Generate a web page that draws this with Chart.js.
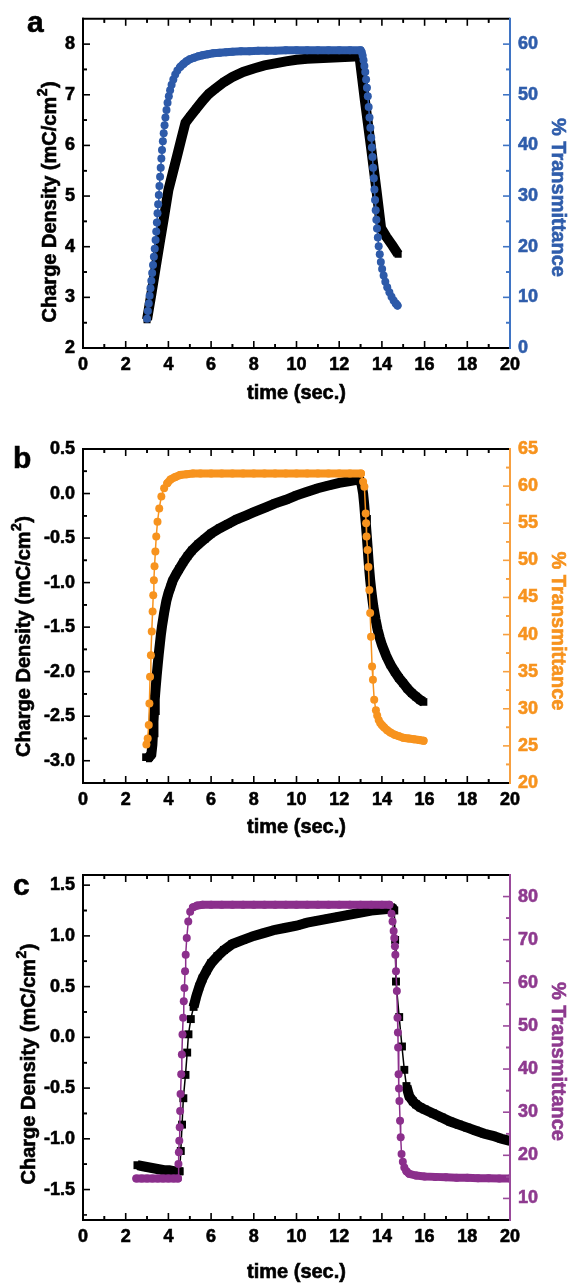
<!DOCTYPE html>
<html>
<head>
<meta charset="utf-8">
<script src="https://cdn.jsdelivr.net/npm/chart.js@4.4.1/dist/chart.umd.min.js"></script>
<style>
  body { margin: 0; background: #fff; width: 571px; height: 1283px; position: relative; overflow: hidden; font-family: "Liberation Sans", Arial, sans-serif; }
  .panel { position: absolute; left: 0; width: 571px; }
  .tag { position: absolute; font-weight: bold; font-size: 30px; line-height: 30px; color: #000; -webkit-text-stroke: 0.6px #000; }
</style>
</head>
<body>
<div class="panel" style="top:0;height:430px"><canvas id="chartA" width="571" height="430"></canvas></div>
<div class="panel" style="top:430px;height:425px"><canvas id="chartB" width="571" height="425"></canvas></div>
<div class="panel" style="top:855px;height:428px"><canvas id="chartC" width="571" height="428"></canvas></div>
<div class="tag" style="left:27px;top:7px">a</div>
<div class="tag" style="left:13px;top:443px">b</div>
<div class="tag" style="left:13px;top:870px">c</div>

<script>
// ---- shared axis labels ----
const xTicks = [0, 2, 4, 6, 8, 10, 12, 14, 16, 18, 20];
const xTitle = 'time (sec.)';
const chargeTitle = ['Charge Density (mC/cm', '2', ')'];
const transTitle = '% Transmittance';

// ---- panel a ----
const timeBlackA = [3.0, 3.2, 3.4, 3.6, 3.8, 4.0, 4.2, 4.4, 4.6, 4.8, 5.0, 5.3, 5.6, 5.9, 6.2, 6.6, 7.0, 7.5, 8.0, 8.5, 9.0, 9.5, 10.0, 10.5, 11.0, 11.5, 12.0, 12.5, 12.95, 13.2, 13.5, 13.75, 13.96, 14.2, 14.5, 14.76];
const chargeA = [2.56, 3.06, 3.58, 4.1, 4.6, 5.12, 5.45, 5.78, 6.12, 6.45, 6.56, 6.72, 6.88, 7.02, 7.12, 7.25, 7.35, 7.45, 7.52, 7.58, 7.62, 7.66, 7.69, 7.71, 7.72, 7.73, 7.74, 7.75, 7.76, 6.9, 5.93, 5.1, 4.37, 4.2, 4.02, 3.85];
const timeBlueA = [3.0, 3.04, 3.08, 3.12, 3.16, 3.2, 3.24, 3.28, 3.32, 3.36, 3.4, 3.43, 3.46, 3.49, 3.52, 3.55, 3.58, 3.61, 3.64, 3.67, 3.7, 3.74, 3.78, 3.82, 3.86, 3.91, 3.96, 4.02, 4.08, 4.15, 4.23, 4.32, 4.42, 4.55, 4.7, 4.85, 5.0, 5.2, 5.4, 5.6, 5.85, 6.1, 6.4, 6.7, 7.0, 7.4, 7.8, 8.2, 8.6, 9.0, 9.5, 10.0, 10.5, 11.0, 11.5, 12.0, 12.5, 13.0,
  13.06, 13.1, 13.14, 13.18, 13.22, 13.26, 13.3, 13.34, 13.38, 13.42, 13.46, 13.5, 13.53, 13.56, 13.59, 13.62, 13.65, 13.68, 13.71, 13.74, 13.77, 13.81, 13.85, 13.9, 13.95, 14.01, 14.08, 14.16, 14.25, 14.35, 14.45, 14.55, 14.65, 14.73];
const transA = [5.8, 7.3, 8.8, 10.3, 11.8, 13.3, 14.8, 16.4, 18.0, 19.6, 21.3, 23.0, 24.8, 26.6, 28.4, 30.2, 32.0, 33.8, 35.6, 37.4, 39.1, 40.8, 42.4, 44.0, 45.5, 47.0, 48.4, 49.7, 50.9, 52.0, 53.0, 54.0, 54.8, 55.5, 56.1, 56.6, 57.0, 57.3, 57.6, 57.8, 58.0, 58.2, 58.3, 58.4, 58.5, 58.6, 58.6, 58.7, 58.7, 58.7, 58.8, 58.8, 58.8, 58.8, 58.8, 58.8, 58.8, 58.8,
  58.4, 57.7, 56.8, 55.7, 54.5, 53.0, 51.4, 49.7, 47.6, 45.5, 43.5, 41.5, 39.6, 37.7, 35.6, 33.5, 31.3, 29.2, 27.2, 25.3, 23.6, 21.8, 20.1, 18.5, 17.0, 15.6, 14.3, 13.1, 12.0, 11.0, 10.1, 9.4, 8.8, 8.4];
const chargeTicksA = [2, 3, 4, 5, 6, 7, 8];
const transTicksA = [0, 10, 20, 30, 40, 50, 60];

// ---- panel b ----
const timeBlackB = [2.95, 3.1, 3.2, 3.25, 3.28, 3.3, 3.33, 3.36, 3.4, 3.45, 3.5, 3.55, 3.6, 3.65, 3.7, 3.8, 3.9, 4.0, 4.1, 4.2, 4.35, 4.5, 4.7, 4.9, 5.1, 5.4, 5.7, 6.0, 6.4, 6.8, 7.2, 7.6, 8.0, 8.5, 9.0, 9.5, 10.0, 10.5, 11.0, 11.5, 12.0, 12.5, 12.95,
  13.05, 13.12, 13.17, 13.21, 13.25, 13.29, 13.33, 13.37, 13.41, 13.45, 13.5, 13.55, 13.6, 13.7, 13.8, 13.9, 14.0, 14.2, 14.4, 14.6, 14.8, 15.0, 15.2, 15.4, 15.6, 15.8, 15.95];
const chargeB = [-2.96, -2.96, -2.93, -2.82, -2.68, -2.56, -2.43, -2.31, -2.19, -2.05, -1.92, -1.8, -1.69, -1.58, -1.49, -1.34, -1.21, -1.12, -1.05, -0.98, -0.91, -0.85, -0.77, -0.70, -0.64, -0.57, -0.51, -0.45, -0.39, -0.34, -0.29, -0.25, -0.21, -0.16, -0.11, -0.07, -0.02, 0.02, 0.06, 0.09, 0.12, 0.14, 0.16,
  0.1, 0.0, -0.12, -0.24, -0.35, -0.47, -0.6, -0.74, -0.86, -0.97, -1.08, -1.18, -1.27, -1.41, -1.53, -1.62, -1.7, -1.82, -1.92, -2.0, -2.07, -2.13, -2.19, -2.24, -2.28, -2.32, -2.34];
const timeOrangeB = [2.97, 3.03, 3.08, 3.11, 3.14, 3.18, 3.22, 3.26, 3.29, 3.32, 3.35, 3.39, 3.43, 3.49, 3.57, 3.67, 3.8, 3.95, 4.1, 4.3, 4.55, 4.85, 5.15, 5.5, 6.0, 6.5, 7.0, 7.5, 8.0, 8.5, 9.0, 9.5, 10.0, 10.5, 11.0, 11.5, 12.0, 12.5, 13.02,
  13.12, 13.18, 13.24, 13.26, 13.28, 13.33, 13.37, 13.41, 13.45, 13.49, 13.54, 13.58, 13.64, 13.72, 13.78, 13.85, 13.92, 14.0, 14.1, 14.25, 14.4, 14.6, 14.8, 15.0, 15.25, 15.5, 15.75, 15.95];
const transB = [25.2, 26.0, 27.8, 30.7, 34.3, 37.2, 40.4, 43.1, 45.3, 47.3, 49.2, 51.2, 53.2, 55.2, 57.0, 58.6, 59.7, 60.4, 60.9, 61.2, 61.5, 61.6, 61.7, 61.7, 61.7, 61.7, 61.7, 61.7, 61.7, 61.7, 61.7, 61.7, 61.7, 61.7, 61.7, 61.7, 61.7, 61.7, 61.7,
  60.6, 59.9, 56.3, 55.0, 53.2, 51.4, 49.1, 46.0, 42.9, 39.7, 35.7, 33.9, 31.2, 29.8, 29.1, 28.5, 28.1, 27.8, 27.5, 27.1, 26.8, 26.5, 26.3, 26.1, 26.0, 25.9, 25.8, 25.7];
const chargeTicksB = [-3.0, -2.5, -2.0, -1.5, -1.0, -0.5, 0.0, 0.5];
const transTicksB = [20, 25, 30, 35, 40, 45, 50, 55, 60, 65];

// ---- panel c ----
const timeBlackC = [2.55, 2.8, 3.05, 3.3, 3.55, 3.8, 4.05, 4.3, 4.5, 4.53, 4.58, 4.64, 4.7, 4.8, 4.88, 4.94, 5.05, 5.18, 5.3, 5.45, 5.6, 5.8, 6.0, 6.3, 6.6, 7.0, 7.5, 8.0, 8.5, 9.0, 9.5, 10.0, 10.5, 11.0, 11.5, 12.0, 12.5, 13.0, 13.5, 14.0, 14.5, 14.58,
  14.62, 14.66, 14.81, 14.94, 15.05, 15.15, 15.28, 15.45, 15.6, 15.8, 16.0, 16.4, 16.8, 17.2, 17.6, 18.0, 18.4, 18.8, 19.2, 19.6, 20.0];
const chargeC = [-1.26, -1.27, -1.28, -1.29, -1.3, -1.31, -1.31, -1.32, -1.32, -1.32, -1.12, -0.86, -0.6, -0.37, -0.15, 0.03, 0.18, 0.3, 0.4, 0.5, 0.58, 0.66, 0.73, 0.8, 0.86, 0.92, 0.96, 1.0, 1.03, 1.06, 1.08, 1.1, 1.13, 1.15, 1.17, 1.19, 1.21, 1.23, 1.25, 1.26, 1.27, 1.25,
  0.96, 0.55, 0.2, -0.09, -0.32, -0.48, -0.58, -0.63, -0.66, -0.69, -0.71, -0.75, -0.79, -0.83, -0.86, -0.89, -0.92, -0.95, -0.97, -1.0, -1.02];
const timePurpleC = [2.5, 2.75, 3.0, 3.25, 3.5, 3.75, 4.0, 4.25, 4.45, 4.47, 4.49, 4.51, 4.53, 4.55, 4.57, 4.6, 4.63, 4.66, 4.69, 4.72, 4.75, 4.78, 4.81, 4.86, 4.93, 5.02, 5.15, 5.35, 5.6, 6.0, 6.5, 7.0, 7.5, 8.0, 8.5, 9.0, 9.5, 10.0, 10.5, 11.0, 11.5, 12.0, 12.5, 13.0, 13.5, 14.0, 14.35,
  14.45, 14.5, 14.55, 14.58, 14.61, 14.63, 14.66, 14.7, 14.73, 14.75, 14.76, 14.78, 14.8, 14.82, 14.85, 14.88, 14.92, 14.98, 15.05, 15.15, 15.28, 15.6, 16.0, 16.5, 17.0, 17.5, 18.0, 18.5, 19.0, 19.5, 20.0];
const transC = [14.6, 14.6, 14.6, 14.6, 14.6, 14.6, 14.6, 14.6, 14.6, 18.0, 20.7, 23.4, 26.5, 30.3, 34.2, 38.8, 43.4, 48.0, 51.9, 55.7, 58.8, 62.7, 66.5, 70.4, 74.2, 76.5, 77.5, 77.9, 78.1, 78.1, 78.1, 78.1, 78.1, 78.1, 78.1, 78.1, 78.1, 78.1, 78.1, 78.1, 78.1, 78.1, 78.1, 78.1, 78.1, 78.1, 78.1,
  76.0, 74.2, 72.0, 70.4, 68.5, 66.5, 62.7, 58.1, 51.9, 48.5, 45.0, 38.8, 35.5, 32.6, 28.0, 24.2, 20.3, 18.5, 17.2, 16.3, 15.7, 15.3, 15.1, 15.0, 14.9, 14.8, 14.8, 14.7, 14.7, 14.6, 14.6];
const chargeTicksC = [-1.5, -1.0, -0.5, 0.0, 0.5, 1.0, 1.5];
const transTicksC = [10, 20, 30, 40, 50, 60, 70, 80];

const FONT = '"Liberation Sans", Arial, sans-serif';

function pts(xs, ys) {
  return xs.map((x, i) => ({ x: x, y: ys[i] }));
}

// short segments (squares overlapping) drawn as a thick band, long ones as a thin line
function bandWidth(thick, thin, maxLen) {
  return c => Math.hypot(c.p1.x - c.p0.x, c.p1.y - c.p0.y) <= maxLen ? thick : thin;
}
// flat segments as a thick band, steep ones as a thin line between the dots
function slopeWidth(thick, thin) {
  return c => Math.abs(c.p1.y - c.p0.y) <= 1.2 * Math.abs(c.p1.x - c.p0.x) ? thick : thin;
}

function framePlugin(p) {
  return {
    id: 'frame',
    afterDatasetsDraw(chart) {
      const ctx = chart.ctx, a = chart.chartArea;
      const sx = chart.scales.x, sl = chart.scales.y, sr = chart.scales.y1;
      const line = (x1, y1, x2, y2, col, w) => {
        ctx.strokeStyle = col; ctx.lineWidth = w;
        ctx.beginPath(); ctx.moveTo(x1, y1); ctx.lineTo(x2, y2); ctx.stroke();
      };
      const withMinor = list => {
        const step = list[1] - list[0];
        const out = [];
        list.forEach(v => { out.push([v, 7]); out.push([v - step / 2, 4]); out.push([v + step / 2, 4]); });
        return out;
      };
      const text = (s, x, y, col) => {
        ctx.fillStyle = col; ctx.strokeStyle = col; ctx.lineWidth = 0.6;
        ctx.fillText(s, x, y); ctx.strokeText(s, x, y);
      };
      ctx.save();
      withMinor(p.xTicks).forEach(([v, len]) => {
        const px = sx.getPixelForValue(v);
        if (px < a.left + 2 || px > a.right - 2) return;
        line(px, a.bottom, px, a.bottom - len, '#000', 1.6);
        line(px, a.top, px, a.top + len, '#000', 1.6);
      });
      withMinor(p.leftTicks).forEach(([v, len]) => {
        const py = sl.getPixelForValue(v);
        if (py < a.top + 2 || py > a.bottom - 2) return;
        line(a.left, py, a.left + len, py, '#000', 1.6);
      });
      withMinor(p.rightTicks).forEach(([v, len]) => {
        const py = sr.getPixelForValue(v);
        if (py < a.top + 2 || py > a.bottom - 2) return;
        line(a.right, py, a.right - len, py, p.axisColor, 1.6);
      });
      line(a.left - 1, a.bottom, a.right, a.bottom, '#000', 2);
      line(a.left - 1, a.top, a.right, a.top, '#000', 2);
      line(a.left, a.top - 1, a.left, a.bottom + 1, '#000', 2);
      line(a.right, a.top - 1, a.right, a.bottom + 1, p.axisColor, 2);

      const cy = (a.top + a.bottom) / 2;
      ctx.textBaseline = 'middle';

      // left title with a raised superscript 2
      const big = 'bold 20px ' + FONT, small = 'bold 14px ' + FONT;
      ctx.font = big;
      const w1 = ctx.measureText(chargeTitle[0]).width;
      const w3 = ctx.measureText(chargeTitle[2]).width;
      ctx.font = small;
      const w2 = ctx.measureText(chargeTitle[1]).width;
      ctx.save();
      ctx.translate(p.leftTitleX, cy + p.leftTitleDy);
      ctx.rotate(-Math.PI / 2);
      ctx.textAlign = 'left';
      let x0 = -(w1 + w2 + w3) / 2;
      ctx.font = big; text(chargeTitle[0], x0, 0, '#000');
      ctx.font = small; text(chargeTitle[1], x0 + w1 + 0.5, -7, '#000');
      ctx.font = big; text(chargeTitle[2], x0 + w1 + w2 + 1, 0, '#000');
      ctx.restore();

      ctx.textAlign = 'center';
      ctx.font = big;
      ctx.save();
      ctx.translate(558, cy + p.rightTitleDy);
      ctx.rotate(Math.PI / 2);
      text(transTitle, 0, 0, p.labelColor);
      ctx.restore();
      text(xTitle, (a.left + a.right) / 2, a.bottom + p.xTitleDy, '#000');
      ctx.restore();
    }
  };
}

function makeChart(id, p) {
  const canvas = document.getElementById(id);
  const H = canvas.height;
  const tickFont = { family: FONT, size: 18, weight: 'bold' };
  return new Chart(canvas, {
    type: 'line',
    data: {
      datasets: [
        {
          data: pts(p.transX, p.transY),
          yAxisID: 'y1',
          borderColor: p.color,
          backgroundColor: p.color,
          borderWidth: 1.5,
          borderCapStyle: 'round',
          segment: { borderWidth: slopeWidth(8, 1.5) },
          pointStyle: 'circle',
          pointRadius: 4,
          pointBorderWidth: 0,
          pointBackgroundColor: p.color,
          tension: 0,
          clip: { left: 8, top: 8, right: 0, bottom: 8 }
        },
        {
          data: pts(p.chargeX, p.chargeY),
          yAxisID: 'y',
          borderColor: '#000',
          backgroundColor: '#000',
          borderWidth: 1.5,
          segment: { borderWidth: bandWidth(p.blackThick, p.blackThin, p.blackLen) },
          pointStyle: 'rect',
          pointRadius: p.squareR,
          pointBorderWidth: 0,
          pointBackgroundColor: '#000',
          tension: 0,
          clip: { left: 8, top: 8, right: 0, bottom: 8 }
        }
      ]
    },
    options: {
      responsive: false,
      animation: false,
      events: [],
      layout: { padding: { top: p.top, left: 0, right: 0, bottom: 0 }, autoPadding: false },
      plugins: { legend: { display: false }, tooltip: { enabled: false } },
      scales: {
        x: {
          type: 'linear', min: 0, max: 20,
          afterBuildTicks: s => { s.ticks = xTicks.map(v => ({ value: v })); },
          afterFit: s => { s.height = H - p.bottom; },
          ticks: { font: tickFont, color: '#000', padding: 6, maxRotation: 0, autoSkip: false, textStrokeColor: '#000', textStrokeWidth: 0.6 },
          grid: { display: false, drawTicks: false },
          border: { display: false }
        },
        y: {
          position: 'left', min: p.leftMin, max: p.leftMax,
          afterBuildTicks: s => { s.ticks = p.leftTicks.map(v => ({ value: v })); },
          afterFit: s => { s.width = 83; },
          ticks: { font: tickFont, color: '#000', padding: 8, textStrokeColor: '#000', textStrokeWidth: 0.6,
                   callback: v => p.decimals ? v.toFixed(1) : String(v) },
          grid: { display: false, drawTicks: false },
          border: { display: false }
        },
        y1: {
          position: 'right', min: p.rightMin, max: p.rightMax,
          afterBuildTicks: s => { s.ticks = p.rightTicks.map(v => ({ value: v })); },
          afterFit: s => { s.width = 61; },
          ticks: { font: tickFont, color: p.labelColor, padding: 8, textStrokeColor: p.labelColor, textStrokeWidth: 0.6 },
          grid: { display: false, drawTicks: false },
          border: { display: false }
        }
      }
    },
    plugins: [framePlugin(p)]
  });
}

makeChart('chartA', {
  top: 14, bottom: 348,
  chargeX: timeBlackA, chargeY: chargeA, transX: timeBlueA, transY: transA,
  leftMin: 2, leftMax: 8.5, rightMin: 0, rightMax: 65,
  leftTicks: chargeTicksA, rightTicks: transTicksA, xTicks: xTicks, decimals: false,
  color: '#2d5aa9', labelColor: '#2f5dab', axisColor: '#3f74c4',
  blackThick: 10, blackThin: 10, blackLen: 99, squareR: 5,
  leftTitleX: 50, leftTitleDy: 19, rightTitleDy: 14, xTitleDy: 45
});

makeChart('chartB', {
  top: 19, bottom: 353,
  chargeX: timeBlackB, chargeY: chargeB, transX: timeOrangeB, transY: transB,
  leftMin: -3.25, leftMax: 0.5, rightMin: 20, rightMax: 65,
  leftTicks: chargeTicksB, rightTicks: transTicksB, xTicks: xTicks, decimals: true,
  color: '#f7931e', labelColor: '#f7931e', axisColor: '#f7a040',
  blackThick: 10, blackThin: 1.5, blackLen: 16, squareR: 5.4,
  leftTitleX: 24, leftTitleDy: 21, rightTitleDy: 15, xTitleDy: 44
});

makeChart('chartC', {
  top: 20, bottom: 365,
  chargeX: timeBlackC, chargeY: chargeC, transX: timePurpleC, transY: transC,
  leftMin: -1.8, leftMax: 1.6, rightMin: 5, rightMax: 85,
  leftTicks: chargeTicksC, rightTicks: transTicksC, xTicks: xTicks, decimals: true,
  color: '#8b2f8c', labelColor: '#8e3a8f', axisColor: '#9a4a9b',
  blackThick: 10, blackThin: 1.5, blackLen: 12, squareR: 5.6,
  leftTitleX: 29, leftTitleDy: 17, rightTitleDy: 14, xTitleDy: 52
});
</script>
</body>
</html>
